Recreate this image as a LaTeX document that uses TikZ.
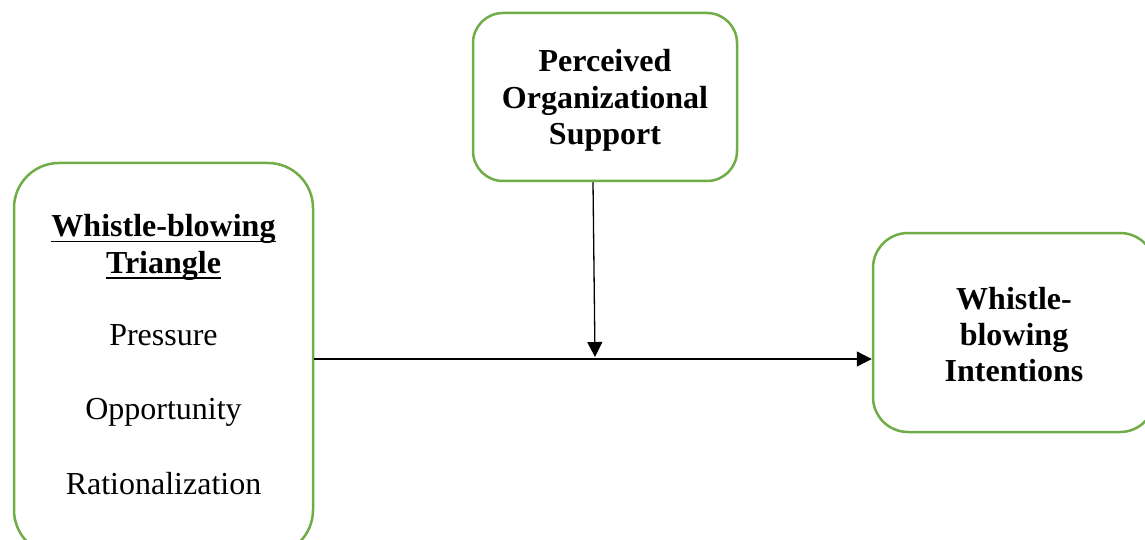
\documentclass[tikz,border=0pt]{standalone}
\usepackage{fontspec}
\setmainfont{Liberation Serif}
\usetikzlibrary{arrows.meta}
\definecolor{boxgreen}{RGB}{112,173,71}
\begin{document}
\begin{tikzpicture}[x=1pt,y=-1pt,
  box/.style={draw=boxgreen, line width=2.5pt, rounded corners=#1, inner sep=0pt},
  box/.default=35pt,
  txt/.style={anchor=base, inner sep=0pt, font=\fontsize{32}{36.5}\selectfont},
  btxt/.style={anchor=base, inner sep=0pt, font=\fontsize{32}{36.5}\selectfont\bfseries},
  conn/.style={line width=1.3pt, -{Triangle[length=15pt,width=15pt]}},
  uline/.style={line width=1.8pt}]
\useasboundingbox (0,0) rectangle (1145,540);
\clip (0,0) rectangle (1145,540);
\fill[white] (0,0) rectangle (1145,540);
% boxes
\node[box=45pt, minimum width=299pt, minimum height=392pt] (L) at (163.5,359) {};
\node[box=30pt, minimum width=264pt, minimum height=168pt] (T) at (605,97) {};
\node[box=35pt, minimum width=282pt, minimum height=199pt] (R) at (1014,332.5) {};
% left texts
\node[btxt] (w1) at (163.5,236.5) {Whistle-blowing};
\node[btxt] (w2) at (163.5,273) {Triangle};
\draw[uline] ([yshift=-5pt]w1.base west) -- ([yshift=-5pt]w1.base east);
\draw[uline] ([yshift=-5pt]w2.base west) -- ([yshift=-5pt]w2.base east);
\node[txt] (p1) at (163.5,345) {Pressure};
\node[txt] (p2) at (163.5,419.5) {Opportunity};
\node[txt] (p3) at (163.5,494) {Rationalization};
% top texts
\node[btxt] (t1) at (605,72) {Perceived};
\node[btxt] (t2) at (605,108.5) {Organizational};
\node[btxt] (t3) at (605,145) {Support};
% right texts
\node[btxt] (r1) at (1014,309) {Whistle-};
\node[btxt] (r2) at (1014,345) {blowing};
\node[btxt] (r3) at (1014,381) {Intentions};
% connectors
\coordinate (m) at (595,357);
\draw[conn] (L.east) -- (L.east -| R.west);
\draw[conn] ([xshift=-12pt]T.south) -- (m);
\end{tikzpicture}
\end{document}
